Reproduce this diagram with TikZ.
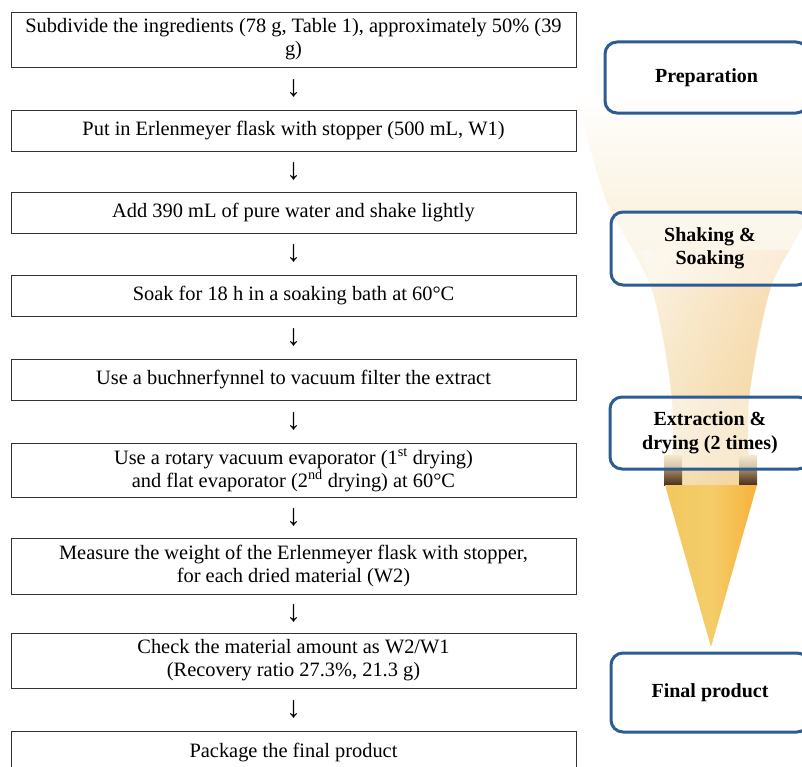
\documentclass[tikz,border=0pt]{standalone}
\usepackage{fontspec}
\setmainfont{Liberation Serif}
\usetikzlibrary{calc}
\definecolor{boxblue}{HTML}{2C5C91}
\definecolor{ftop}{HTML}{FFFFFF}
\definecolor{fmid}{HTML}{F8EBCF}
\definecolor{fbot}{HTML}{F0D8A0}
\definecolor{forange}{HTML}{F7BD74}
\definecolor{hleft}{HTML}{F2C85E}
\definecolor{hmid}{HTML}{F4CD6A}
\definecolor{hright}{HTML}{F7B23A}
\definecolor{shadowc}{HTML}{4A2E1C}
\tikzset{
  lbox/.style={draw=black!80, line width=0.9bp, fill=white, minimum width=565bp,
    inner sep=0pt, align=center, font=\fontsize{20.4bp}{23bp}\selectfont},
  darrow/.style={inner sep=0pt, font=\fontsize{30bp}{30bp}\selectfont},
  stagebox/.style={draw=boxblue, line width=3bp, rounded corners=12bp, fill=white,
    fill opacity=0.45, text opacity=1, align=center, inner sep=0pt,
    font=\bfseries\fontsize{20bp}{23.5bp}\selectfont},
}
\begin{document}
\begin{tikzpicture}[x=1bp,y=-1bp]
\useasboundingbox (0,0) rectangle (802,767);
\clip (0,0) rectangle (802,767);
% funnel glow
\shade[top color=ftop, bottom color=fbot, middle color=fmid]
  plot[smooth] coordinates {(575,92) (606,200) (652,290) (672,400) (671,485)}
  -- (750,485)
  -- plot[smooth] coordinates {(750,485) (749,400) (770,290) (816,200) (847,92)}
  -- cycle;
\shade[left color=white, right color=forange, fill opacity=0.35]
  plot[smooth] coordinates {(640,250) (652,290) (672,400) (671,485)}
  -- (750,485)
  -- plot[smooth] coordinates {(750,485) (749,400) (770,290) (790,250)}
  -- cycle;
% shadows of the arrow head
\shade[top color=fbot, bottom color=shadowc] (664,455) rectangle (682,485);
\shade[top color=fbot, bottom color=shadowc] (739,455) rectangle (757,485);
% arrow head
\shade[left color=hleft, right color=hright, middle color=hmid]
  (665,485) -- (757,485) -- (711,647) -- cycle;

% stage boxes
\node[stagebox, minimum width=203bp, minimum height=71bp] (s1) at (706.5,77.5) {Preparation};
\node[stagebox, minimum width=198bp, minimum height=73bp] (s2) at (710,248.5) {Shaking \&\\Soaking};
\node[stagebox, minimum width=200bp, minimum height=72bp] (s3) at (710,433) {Extraction \&\\drying (2 times)};
\node[stagebox, minimum width=198bp, minimum height=79bp] (s4) at (710,692.5) {Final product};

% process boxes
\node[lbox, minimum height=55bp] (b1) at (293.5,39.5) {Subdivide the ingredients (78 g, Table 1), approximately 50\% (39\\g)};
\node[lbox, minimum height=41bp] (b2) at (293.5,130.5) {Put in Erlenmeyer flask with stopper (500 mL, W1)};
\node[lbox, minimum height=41bp] (b3) at (293.5,212.5) {Add 390 mL of pure water and shake lightly};
\node[lbox, minimum height=41bp] (b4) at (293.5,295.5) {Soak for 18 h in a soaking bath at 60°C};
\node[lbox, minimum height=41bp] (b5) at (293.5,379.5) {Use a buchnerfynnel to vacuum filter the extract};
\node[lbox, minimum height=54bp] (b6) at (293.5,470) {Use a rotary vacuum evaporator (1\textsuperscript{st} drying)\\and flat evaporator (2\textsuperscript{nd} drying) at 60°C};
\node[lbox, minimum height=56bp] (b7) at (293.5,566) {Measure the weight of the Erlenmeyer flask with stopper,\\for each dried material (W2)};
\node[lbox, minimum height=55bp] (b8) at (293.5,660.5) {Check the material amount as W2/W1\\(Recovery ratio 27.3\%, 21.3 g)};
\node[lbox, minimum height=42bp, anchor=north] (b9) at (293.5,731) {Package the final product};

% down arrows (printed glyphs)
\foreach \a/\b [count=\i] in {b1/b2,b2/b3,b3/b4,b4/b5,b5/b6,b6/b7,b7/b8,b8/b9}
  \node[darrow] (a\i) at ($(\a.south)!0.5!(\b.north)$) {↓};
\end{tikzpicture}
\end{document}
